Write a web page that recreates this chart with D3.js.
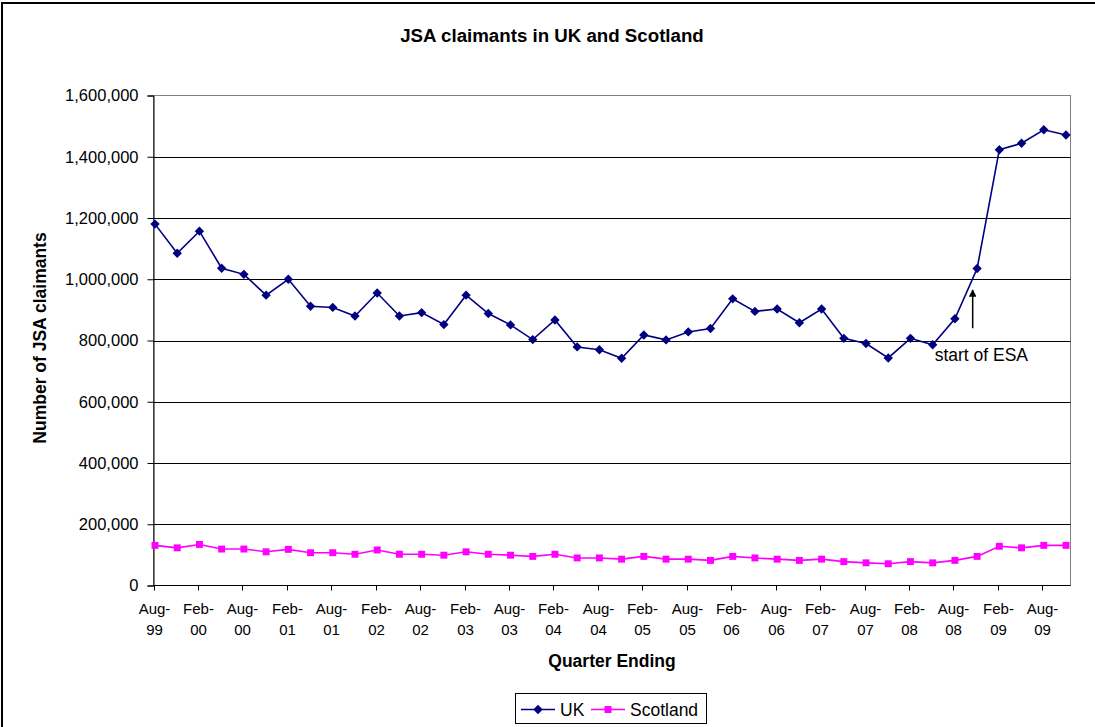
<!DOCTYPE html>
<html>
<head>
<meta charset="utf-8">
<script src="https://cdn.jsdelivr.net/npm/d3@7"></script>
<style>
  html, body { margin: 0; padding: 0; background: #fff; }
  svg { display: block; font-family: "Liberation Sans", Arial, sans-serif; }
</style>
</head>
<body>
<svg id="chart" width="1095" height="727"></svg>
<script>
// Quarter-ending categories
const quarters = [
  "Aug-99","Nov-99",
  "Feb-00","May-00","Aug-00","Nov-00",
  "Feb-01","May-01","Aug-01","Nov-01",
  "Feb-02","May-02","Aug-02","Nov-02",
  "Feb-03","May-03","Aug-03","Nov-03",
  "Feb-04","May-04","Aug-04","Nov-04",
  "Feb-05","May-05","Aug-05","Nov-05",
  "Feb-06","May-06","Aug-06","Nov-06",
  "Feb-07","May-07","Aug-07","Nov-07",
  "Feb-08","May-08","Aug-08","Nov-08",
  "Feb-09","May-09","Aug-09","Nov-09"
];

// JSA claimants, UK
const ukValues = [
  1180000, 1085000, 1157000, 1036000, 1016000, 948000, 1000000, 912000, 908000, 880000,
  955000, 880000, 891000, 852000, 948000, 888000, 851000, 803000, 867000, 779000,
  770000, 742000, 818000, 802000, 828000, 839000, 936000, 895000, 903000, 858000,
  903000, 807000, 790000, 743000, 807000, 786000, 871000, 1035000, 1423000, 1444000,
  1488000, 1471000
];

// JSA claimants, Scotland
const scotlandValues = [
  131000, 123000, 134000, 119000, 119000, 110000, 118000, 107000, 107000, 102000,
  116000, 102000, 102000, 99000, 110000, 102000, 99000, 95000, 102000, 90000,
  90000, 86000, 95000, 86000, 86000, 82000, 95000, 90000, 86000, 82000,
  86000, 78000, 74000, 71000, 78000, 74000, 82000, 95000, 128000, 123000,
  131000, 131000
];

const yTicks = [0, 200000, 400000, 600000, 800000, 1000000, 1200000, 1400000, 1600000];

// ESA annotation: arrow between Aug-08 and Nov-08
const esaNote = { text: "start of ESA", from: "Aug-08", to: "Nov-08", frac: 0.8,
                  arrowBase: 840000, arrowTip: 965000, textAt: 733000 };

const svg = d3.select("#chart");
const plot = { left: 153.5, top: 95.5, right: 1070.5, bottom: 585.5 };

const x = d3.scalePoint().domain(quarters).range([155, 1066]);
const y = d3.scaleLinear().domain([0, 1600000]).range([585.5, 95.5]);

// Outer chart border
svg.append("rect")
  .attr("x", 2).attr("y", 3).attr("width", 1110).attr("height", 740)
  .attr("fill", "#fff").attr("stroke", "#000").attr("stroke-width", 2);

// Title
svg.append("text")
  .attr("x", 552).attr("y", 42)
  .attr("text-anchor", "middle")
  .attr("font-size", 18.7).attr("font-weight", "bold")
  .text("JSA claimants in UK and Scotland");

// Plot area frame (top/right)
svg.append("rect")
  .attr("x", plot.left).attr("y", plot.top)
  .attr("width", plot.right - plot.left).attr("height", plot.bottom - plot.top)
  .attr("fill", "none").attr("stroke", "#808080").attr("stroke-width", 1);

// Horizontal gridlines
svg.append("g")
  .selectAll("line")
  .data(yTicks.filter(d => d > 0 && d < 1600000))
  .join("line")
  .attr("x1", plot.left).attr("x2", plot.right)
  .attr("y1", d => Math.round(y(d)) + 0.5).attr("y2", d => Math.round(y(d)) + 0.5)
  .attr("stroke", "#000").attr("stroke-width", 1);

// Y axis
const yAxis = svg.append("g")
  .attr("transform", `translate(${plot.left},0)`)
  .call(d3.axisLeft(y).tickValues(yTicks).tickSize(6).tickPadding(9)
        .tickFormat(d3.format(",")));
yAxis.select(".domain").attr("stroke", "#000");
yAxis.selectAll(".tick line").attr("stroke", "#000");
yAxis.selectAll("text").attr("font-size", 16.5).attr("fill", "#000")
  .attr("font-family", "Liberation Sans, Arial, sans-serif");

// X axis line
svg.append("line")
  .attr("x1", plot.left).attr("x2", plot.right)
  .attr("y1", plot.bottom).attr("y2", plot.bottom)
  .attr("stroke", "#000");

// X ticks and two-line labels on every other quarter
const labelled = quarters.filter((d, i) => i % 2 === 0);
const xt = svg.append("g").selectAll("g").data(labelled).join("g")
  .attr("transform", d => `translate(${Math.round(x(d) - 1.5) + 0.5},0)`);
xt.append("line")
  .attr("y1", plot.bottom).attr("y2", plot.bottom + 5)
  .attr("stroke", "#000");
xt.append("text")
  .attr("text-anchor", "middle").attr("font-size", 15)
  .attr("y", 614)
  .text(d => d.split("-")[0] + "-");
xt.append("text")
  .attr("text-anchor", "middle").attr("font-size", 15)
  .attr("y", 635)
  .text(d => d.split("-")[1]);

// Axis titles
svg.append("text")
  .attr("x", 612).attr("y", 667)
  .attr("text-anchor", "middle")
  .attr("font-size", 17.5).attr("font-weight", "bold")
  .text("Quarter Ending");

svg.append("text")
  .attr("transform", "translate(46,338) rotate(-90)")
  .attr("text-anchor", "middle")
  .attr("font-size", 17.5).attr("font-weight", "bold")
  .text("Number of JSA claimants");

// Series: UK uses a square turned 45° (diamond), Scotland a plain square
const series = [
  { name: "UK", values: ukValues, color: "#000080", rotate: 45, size: 44 },
  { name: "Scotland", values: scotlandValues, color: "#FF00FF", rotate: 0, size: 48 }
];

const line = d3.line().x(d => x(d.q)).y(d => y(d.v));

series.forEach(s => {
  const pts = quarters.map((q, i) => ({ q, v: s.values[i] }));
  svg.append("path")
    .datum(pts)
    .attr("d", line)
    .attr("fill", "none")
    .attr("stroke", s.color)
    .attr("stroke-width", 1.6);
  svg.append("g").selectAll("path").data(pts).join("path")
    .attr("transform", d => `translate(${x(d.q)},${y(d.v)}) rotate(${s.rotate})`)
    .attr("d", d3.symbol().type(d3.symbolSquare).size(s.size))
    .attr("fill", s.color);
});

// ESA annotation
const ax = x(esaNote.from) + esaNote.frac * (x(esaNote.to) - x(esaNote.from));
svg.append("defs").append("marker")
  .attr("id", "arrowhead")
  .attr("viewBox", "0 0 10 10").attr("refX", 9).attr("refY", 5)
  .attr("markerWidth", 5).attr("markerHeight", 5)
  .attr("orient", "auto")
  .append("path").attr("d", "M0,0 L10,5 L0,10 z").attr("fill", "#000");
svg.append("line")
  .attr("x1", ax).attr("x2", ax)
  .attr("y1", y(esaNote.arrowBase)).attr("y2", y(esaNote.arrowTip))
  .attr("stroke", "#000").attr("stroke-width", 1.5)
  .attr("marker-end", "url(#arrowhead)");
svg.append("text")
  .attr("x", ax - 38).attr("y", y(esaNote.textAt))
  .attr("font-size", 17.5)
  .text(esaNote.text);

// Legend
const lg = svg.append("g");
lg.append("rect")
  .attr("x", 515.5).attr("y", 693.5).attr("width", 191).attr("height", 30)
  .attr("fill", "#fff").attr("stroke", "#000");
const legendItems = [
  { s: series[0], x0: 521, tx: 560 },
  { s: series[1], x0: 591, tx: 630 }
];
legendItems.forEach(it => {
  lg.append("line")
    .attr("x1", it.x0).attr("x2", it.x0 + 34)
    .attr("y1", 709.5).attr("y2", 709.5)
    .attr("stroke", it.s.color).attr("stroke-width", 1.6);
  lg.append("path")
    .attr("transform", `translate(${it.x0 + 17},709.5) rotate(${it.s.rotate})`)
    .attr("d", d3.symbol().type(d3.symbolSquare).size(it.s.size))
    .attr("fill", it.s.color);
  lg.append("text")
    .attr("x", it.tx).attr("y", 716)
    .attr("font-size", 17.5)
    .text(it.s.name);
});
</script>
</body>
</html>
